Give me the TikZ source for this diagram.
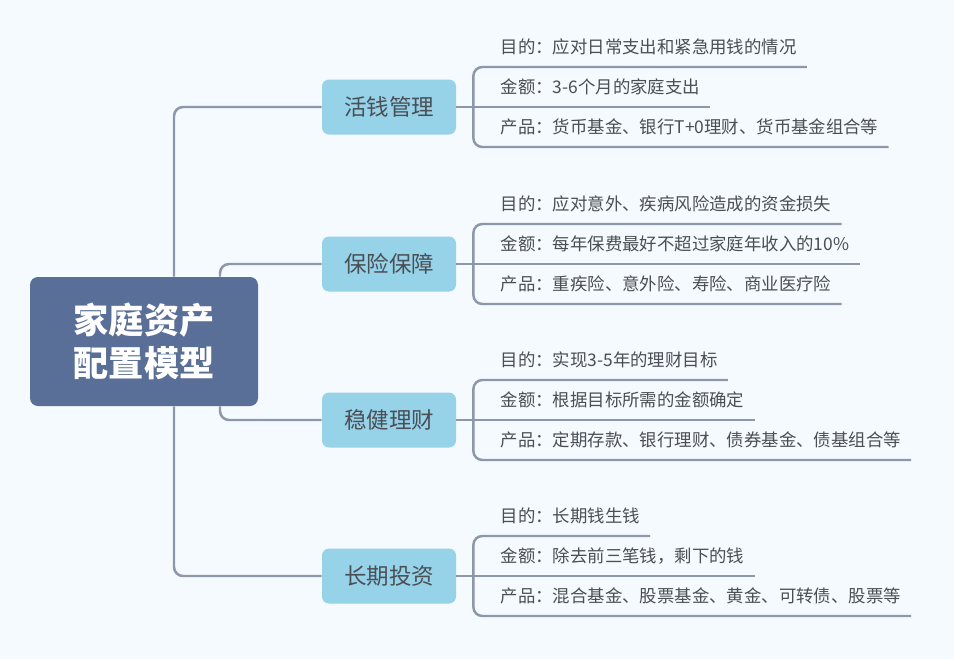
\documentclass[tikz,border=0pt]{standalone}
\usepackage{fontspec}
\setmainfont{Noto Sans CJK SC}
\usetikzlibrary{positioning,calc}
\definecolor{bgblue}{HTML}{F5FAFE}
\definecolor{rootblue}{HTML}{5A6F97}
\definecolor{boxblue}{HTML}{96D2E8}
\definecolor{linegray}{HTML}{8D97AA}
\definecolor{textgray}{HTML}{4A4E55}

\begin{document}
\begin{tikzpicture}[
  root/.style={fill=rootblue, rounded corners=0.16cm, minimum width=4.56cm, minimum height=2.58cm,
    text=white, align=center, font=\bfseries\fontsize{20}{24.4}\selectfont},
  topic/.style={fill=boxblue, rounded corners=0.14cm, minimum width=2.68cm, minimum height=1.1cm,
    text=textgray, font=\fontsize{12.8}{15}\selectfont},
  leaf/.style={anchor=south west, inner sep=0pt, text depth=0.26cm, text=textgray,
    font=\fontsize{9.9}{12}\selectfont},
  link/.style={draw=linegray, line width=1.4pt, rounded corners=0.18cm},
]
  \fill[bgblue] (0,0) rectangle (19.08,-13.18);
  \useasboundingbox (0,0) rectangle (19.08,-13.18);

  \node[root] (root) at (2.88,-6.83) {家庭资产\\配置模型};

  \node[topic] (t1) at (7.78,-2.14) {活钱管理};
  \node[topic] (t2) at (7.78,-5.28) {保险保障};
  \node[topic] (t3) at (7.78,-8.40) {稳健理财};
  \node[topic] (t4) at (7.78,-11.52) {长期投资};

  \foreach \i in {1,...,4} \coordinate[right=0.34cm of t\i.east] (j\i);

  % leaves
  \node[leaf] (l11) at ($(j1)+(0.54,0.8)$) {目的：应对日常支出和紧急用钱的情况};
  \node[leaf] (l12) at ($(j1)+(0.54,0)$) {金额：3-6个月的家庭支出};
  \node[leaf] (l13) at ($(j1)+(0.54,-0.8)$) {产品：货币基金、银行T+0理财、货币基金组合等};

  \node[leaf] (l21) at ($(j2)+(0.54,0.8)$) {目的：应对意外、疾病风险造成的资金损失};
  \node[leaf] (l22) at ($(j2)+(0.54,0)$) {金额：每年保费最好不超过家庭年收入的10\%};
  \node[leaf] (l23) at ($(j2)+(0.54,-0.8)$) {产品：重疾险、意外险、寿险、商业医疗险};

  \node[leaf] (l31) at ($(j3)+(0.54,0.8)$) {目的：实现3-5年的理财目标};
  \node[leaf] (l32) at ($(j3)+(0.54,0)$) {金额：根据目标所需的金额确定};
  \node[leaf] (l33) at ($(j3)+(0.54,-0.8)$) {产品：定期存款、银行理财、债券基金、债基组合等};

  \node[leaf] (l41) at ($(j4)+(0.54,0.8)$) {目的：长期钱生钱};
  \node[leaf] (l42) at ($(j4)+(0.54,0)$) {金额：除去前三笔钱，剩下的钱};
  \node[leaf] (l43) at ($(j4)+(0.54,-0.8)$) {产品：混合基金、股票基金、黄金、可转债、股票等};

  % connectors
  \draw[link] ([xshift=0.6cm]root.north) |- (t1.west);
  \draw[link] ([xshift=1.52cm]root.north) |- (t2.west);
  \draw[link] ([xshift=1.52cm]root.south) |- (t3.west);
  \draw[link] ([xshift=0.6cm]root.south) |- (t4.west);
  \foreach \i in {1,...,4} {
    \draw[link] (t\i.east) -- (j\i);
    \draw[link] (j\i) |- ([xshift=0.2cm]l\i1.south east);
    \draw[link] (j\i) -- ([xshift=0.2cm]l\i2.south east);
    \draw[link] (j\i) |- ([xshift=0.2cm]l\i3.south east);
  }
\end{tikzpicture}
\end{document}
